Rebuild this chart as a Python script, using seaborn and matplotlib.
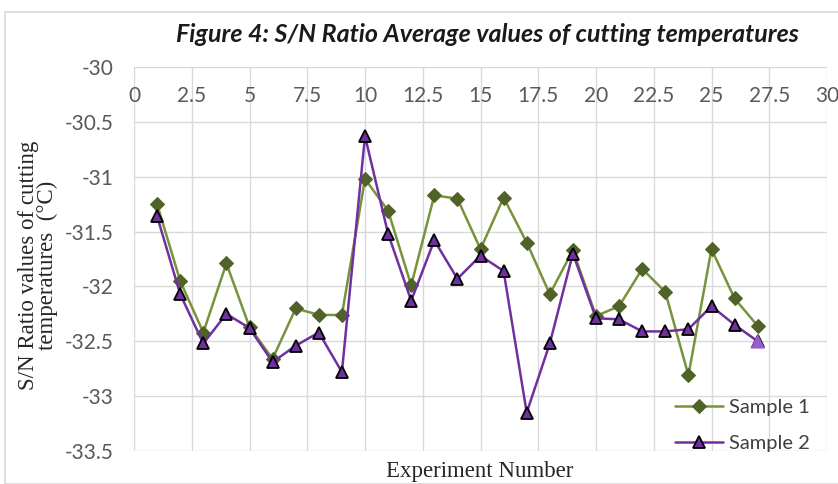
import matplotlib
matplotlib.use("Agg")
import matplotlib.pyplot as plt
import pandas as pd
import seaborn as sns
from matplotlib.patches import Rectangle

experiment = list(range(1, 28))
sample_1 = [-31.25, -31.95, -32.42, -31.79, -32.37, -32.66, -32.20, -32.26, -32.26,
            -31.02, -31.31, -31.99, -31.17, -31.20, -31.66, -31.19, -31.60, -32.07,
            -31.67, -32.27, -32.18, -31.84, -32.05, -32.81, -31.66, -32.11, -32.36]
sample_2 = [-31.36, -32.07, -32.52, -32.25, -32.38, -32.69, -32.54, -32.42, -32.78,
            -30.63, -31.52, -32.13, -31.58, -31.93, -31.72, -31.86, -33.15, -32.52,
            -31.70, -32.29, -32.30, -32.41, -32.41, -32.39, -32.18, -32.35, -32.50]
x_ticks = [0, 2.5, 5, 7.5, 10, 12.5, 15, 17.5, 20, 22.5, 25, 27.5, 30]
x_tick_labels = ["0", "2.5", "5", "7.5", "10", "12.5", "15", "17.5", "20", "22.5", "25", "27.5", "30"]
y_ticks = [-30, -30.5, -31, -31.5, -32, -32.5, -33, -33.5]
y_tick_labels = ["-30", "-30.5", "-31", "-31.5", "-32", "-32.5", "-33", "-33.5"]

df1 = pd.DataFrame({"experiment": experiment, "value": sample_1})
df2 = pd.DataFrame({"experiment": experiment, "value": sample_2})

sns.set_theme(style="white")
plt.rcParams["font.family"] = ["Lato", "DejaVu Sans"]

fig = plt.figure(figsize=(8.38, 4.84), dpi=100)
fig.patches.append(Rectangle((5 / 838, 0), 1, 1 - 12 / 484, transform=fig.transFigure,
                             fill=False, edgecolor="#d9d9d9", linewidth=1.2))
ax = fig.add_axes([134 / 838, 1 - 451 / 484, (827 - 134) / 838, (451 - 67) / 484])

sns.lineplot(data=df1, x="experiment", y="value", ax=ax, color="#77933c", linewidth=1.8,
             marker="D", markersize=7, markerfacecolor="#4f6228", markeredgecolor="#4f6228",
             label="Sample 1")
sns.lineplot(data=df2, x="experiment", y="value", ax=ax, color="#7030a0", linewidth=1.8,
             marker="^", markersize=9, markerfacecolor="#7030a0", markeredgecolor="black",
             markeredgewidth=1.3, label="Sample 2")
# last point of sample 2 is drawn lighter, without the dark outline
sns.scatterplot(data=df2.tail(1), x="experiment", y="value", ax=ax, marker="^", s=110,
                color="#9a5cc8", edgecolor="none", legend=False, zorder=5)

ax.set_xlim(0, 30)
ax.set_ylim(-33.5, -30)
ax.set_xticks(x_ticks)
ax.set_xticklabels(x_tick_labels)
ax.set_yticks(y_ticks)
ax.set_yticklabels(y_tick_labels)
ax.grid(True, color="#d9d9d9", linewidth=1)
for s in ax.spines.values():
    s.set_visible(False)
ax.tick_params(axis="x", top=True, labeltop=True, bottom=False, labelbottom=False,
               length=0, pad=-28, labelsize=15, labelcolor="#595959")
ax.tick_params(axis="y", length=0, pad=15, labelsize=15, labelcolor="#595959")

ax.set_xlabel("")
ax.set_ylabel("")
fig.text(38 / 838, 1 - 265 / 484, "S/N Ratio values of cutting\ntemperatures  (\u00b0C)",
         rotation=90, ha="center", va="center", fontsize=16.5, family="Liberation Serif",
         linespacing=0.9)
fig.text(480 / 838, 2 / 484, "Experiment Number", ha="center", va="bottom",
         fontsize=16.5, family="Liberation Serif")
fig.text(487 / 838, 1 - 34 / 484, "Figure 4: S/N Ratio Average values of cutting temperatures",
         ha="center", va="center", fontsize=18, fontweight="bold", fontstyle="italic",
         color="#1a1a1a")

leg = ax.legend(loc="lower right", frameon=False, fontsize=14.5, handlelength=2.4,
                handletextpad=0.3, borderaxespad=0.1, labelspacing=0.95,
                bbox_to_anchor=(0.99, -0.03))
for t in leg.get_texts():
    t.set_color("#404040")

fig.savefig("out.png", dpi=100)
